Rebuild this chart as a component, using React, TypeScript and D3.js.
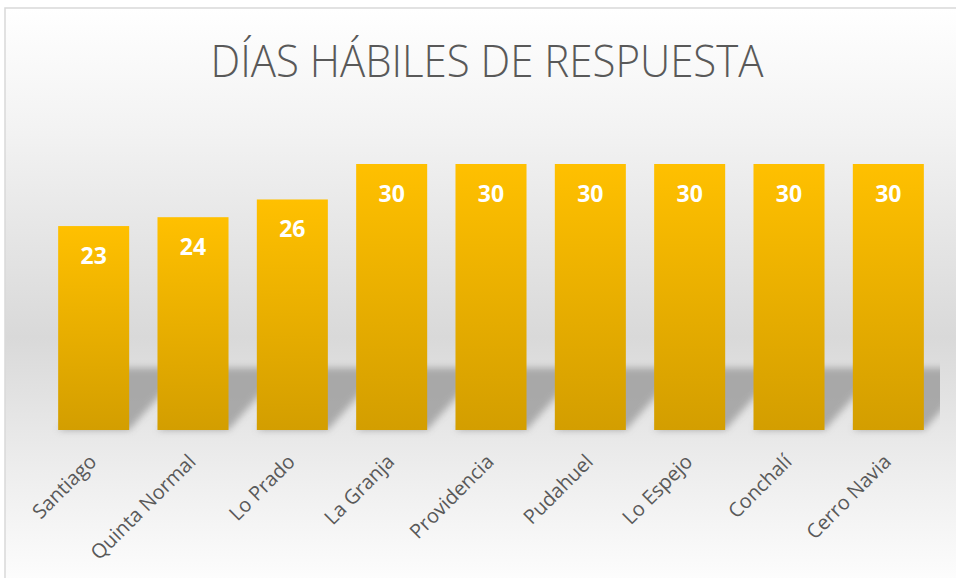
import React from "react";
import * as d3 from "d3";

const categories = ["Santiago", "Quinta Normal", "Lo Prado", "La Granja", "Providencia", "Pudahuel", "Lo Espejo", "Conchalí", "Cerro Navia"];
const values = [23, 24, 26, 30, 30, 30, 30, 30, 30];
const title = "DÍAS HÁBILES DE RESPUESTA";

const W = 956;
const H = 578;

export default function App() {
  const x = d3.scaleBand<string>().domain(categories).range([44, 938]).paddingInner(0.285).paddingOuter(0.1425);
  const y = d3.scaleLinear().domain([0, 30]).range([430, 164]);
  const base = y(0);
  const shH = 62;
  const shS = 55;
  return (
    <svg width={W} height={H} style={{ position: "absolute", left: 0, top: 0 }}>
      <defs>
        <linearGradient id="bg" x1="0" y1="0" x2="0" y2="1">
          <stop offset="0" stopColor="#ffffff" />
          <stop offset="0.2" stopColor="#f3f3f3" />
          <stop offset="0.56" stopColor="#d9d9d9" />
          <stop offset="0.76" stopColor="#ebebeb" />
          <stop offset="1" stopColor="#ffffff" />
        </linearGradient>
        <linearGradient id="bar" x1="0" y1="0" x2="0" y2="1">
          <stop offset="0" stopColor="#ffc000" />
          <stop offset="1" stopColor="#d39e00" />
        </linearGradient>
        <filter id="blur" x="-20%" y="-20%" width="140%" height="140%">
          <feGaussianBlur stdDeviation="3.5" />
        </filter>
        <clipPath id="plot">
          <rect x={0} y={100} width={940} height={340} />
        </clipPath>
      </defs>
      <rect x={5} y={8} width={W + 10} height={H + 10} fill="url(#bg)" stroke="#d9d9d9" strokeWidth={1.5} />
      <text x={487} y={77} textAnchor="middle" fontFamily="Open Sans" fontWeight={300} fontSize={45} fill="#595959" textLength={553} lengthAdjust="spacingAndGlyphs">
        {title}
      </text>
      <g clipPath="url(#plot)">
        {categories.map((c) => {
          const x0 = x(c)!;
          const x1 = x0 + x.bandwidth();
          const p = `M${x0},${base} L${x1},${base} L${x1 + shS},${base - shH} L${x0 + shS},${base - shH} Z`;
          return <path key={c} d={p} fill="#999999" opacity={0.78} filter="url(#blur)" />;
        })}
      </g>
      {categories.map((c, i) => (
        <rect key={c} x={x(c)!} y={y(values[i])} width={x.bandwidth()} height={base - y(values[i])} fill="url(#bar)" />
      ))}
      {categories.map((c, i) => (
        <text key={c} x={x(c)! + x.bandwidth() / 2} y={y(values[i]) + 38} textAnchor="middle" fontFamily="Open Sans" fontWeight={700} fontSize={23} fill="#ffffff">
          {values[i]}
        </text>
      ))}
      {categories.map((c) => {
        const cx = x(c)! + x.bandwidth() / 2;
        return (
          <text key={c} transform={`translate(${cx + 4},${463}) rotate(-45)`} textAnchor="end" fontFamily="Open Sans" fontSize={20} fill="#595959">
            {c}
          </text>
        );
      })}
    </svg>
  );
}
